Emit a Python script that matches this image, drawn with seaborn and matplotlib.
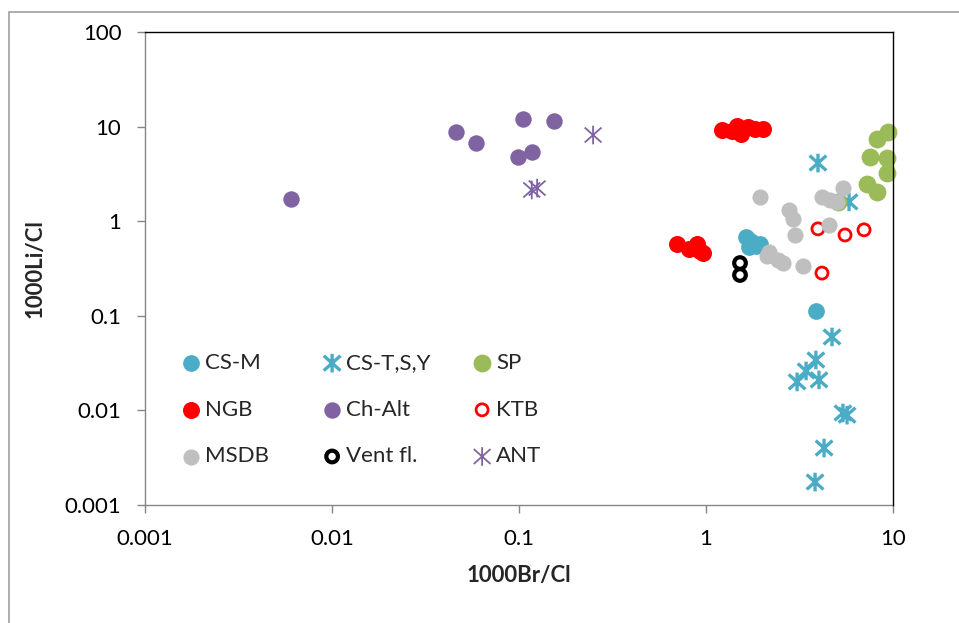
import numpy as np
import pandas as pd
import matplotlib
matplotlib.use("Agg")
import matplotlib.pyplot as plt
from matplotlib.path import Path
from matplotlib.patches import Rectangle
import seaborn as sns

# ---------------- data ----------------
cs_m_x = [1.64, 1.70, 1.76, 1.85, 1.70, 1.94, 1.78, 3.87]
cs_m_y = [0.68, 0.63, 0.60, 0.55, 0.53, 0.57, 0.56, 0.112]

cs_tsy_x = [3.97, 5.82, 4.72, 3.87, 3.43, 3.07, 4.02, 5.40, 5.68, 4.28, 3.83]
cs_tsy_y = [4.12, 1.60, 0.0597, 0.0341, 0.0261, 0.0200, 0.0210, 0.0094, 0.0089, 0.0040, 0.00175]

sp_x = [9.40, 8.21, 7.53, 9.29, 9.29, 7.26, 8.21, 5.08]
sp_y = [8.8, 7.4, 4.8, 4.7, 3.2, 2.5, 2.05, 1.6]

ngb_x = [1.22, 1.38, 1.46, 1.54, 1.68, 1.83, 2.02, 0.70, 0.81, 0.895, 0.96, 0.93]
ngb_y = [9.2, 9.0, 10.1, 8.35, 9.9, 9.5, 9.5, 0.57, 0.51, 0.57, 0.46, 0.49]

chalt_x = [0.006, 0.046, 0.059, 0.105, 0.154, 0.099, 0.117]
chalt_y = [1.72, 8.8, 6.7, 12.0, 11.5, 4.8, 5.4]

ktb_x = [3.97, 5.54, 7.0, 4.17]
ktb_y = [0.83, 0.715, 0.81, 0.283]

msdb_x = [1.94, 2.78, 2.92, 2.99, 2.17, 2.12, 2.43, 2.58, 3.30, 4.17, 4.60, 5.02, 5.40, 4.55]
msdb_y = [1.80, 1.31, 1.05, 0.71, 0.47, 0.43, 0.39, 0.36, 0.336, 1.80, 1.67, 1.60, 2.24, 0.91]

vent_x = [1.52, 1.52]
vent_y = [0.361, 0.27]

ant_x = [0.249, 0.117, 0.125]
ant_y = [8.15, 2.14, 2.24]

x_ticks = [0.001, 0.01, 0.1, 1, 10]
x_tick_labels = ["0.001", "0.01", "0.1", "1", "10"]
y_ticks = [0.001, 0.01, 0.1, 1, 10, 100]
y_tick_labels = ["0.001", "0.01", "0.1", "1", "10", "100"]

x_label = "1000Br/Cl"
y_label = "1000Li/Cl"

# ---------------- styling ----------------
sns.set_theme(style="white")
plt.rcParams['font.family'] = ['Lato', 'DejaVu Sans']

BLUE = "#4BACC6"
GREEN = "#9BBB59"
RED = "#FF0000"
PURPLE = "#8064A2"
GREY = "#BFBFBF"

star = Path([(0, -1), (0, 1), (-0.9, -0.8), (0.9, 0.8), (-0.9, 0.8), (0.9, -0.8)],
            [Path.MOVETO, Path.LINETO] * 3)

fig = plt.figure(figsize=(9.59, 6.23), dpi=100)
ax = fig.add_axes([145 / 959, 118 / 623, 748 / 959, 473 / 623])

def df(x, y):
    return pd.DataFrame({"x": x, "y": y})

handles = {}
specs = [
    ("CS-M", cs_m_x, cs_m_y, dict(marker="o", s=145, color=BLUE, linewidth=0)),
    ("CS-T,S,Y", cs_tsy_x, cs_tsy_y, dict(marker=star, s=180, facecolor="none", edgecolor=BLUE, linewidth=2.4)),
    ("SP", sp_x, sp_y, dict(marker="o", s=165, color=GREEN, linewidth=0)),
    ("NGB", ngb_x, ngb_y, dict(marker="o", s=150, color=RED, linewidth=0)),
    ("Ch-Alt", chalt_x, chalt_y, dict(marker="o", s=140, color=PURPLE, linewidth=0)),
    ("KTB", ktb_x, ktb_y, dict(marker="o", s=75, facecolor="none", edgecolor=RED, linewidth=2.0)),
    ("MSDB", msdb_x, msdb_y, dict(marker="o", s=135, color=GREY, linewidth=0)),
    ("Vent fl.", vent_x, vent_y, dict(marker="o", s=70, facecolor="none", edgecolor="black", linewidth=3.0)),
    ("ANT", ant_x, ant_y, dict(marker=star, s=180, facecolor="none", edgecolor=PURPLE, linewidth=1.3)),
]
for i, (name, xs, ys, kw) in enumerate(specs):
    sns.scatterplot(data=df(xs, ys), x="x", y="y", ax=ax, label=name, zorder=3 + i,
                    legend=False, clip_on=False, **kw)
    handles[name] = ax.collections[-1]

ax.set_xscale("log")
ax.set_yscale("log")
ax.set_xlim(0.001, 10)
ax.set_ylim(0.001, 100)
ax.set_xticks(x_ticks, x_tick_labels)
ax.set_yticks(y_ticks, y_tick_labels)
ax.minorticks_off()

ax.tick_params(axis="both", which="major", labelsize=16, colors="#868686", labelcolor="black",
               length=6, width=1, direction="out", pad=11)
ax.tick_params(axis="x", bottom=True)
ax.tick_params(axis="y", left=True)

for side in ["left", "bottom"]:
    ax.spines[side].set_color("#868686")
    ax.spines[side].set_linewidth(1.0)
for side in ["top", "right"]:
    ax.spines[side].set_color("black")
    ax.spines[side].set_linewidth(1.0)
    ax.spines[side].set_zorder(20)

ax.set_xlabel(x_label, fontsize=16, fontweight="bold", labelpad=12)
ax.set_ylabel(y_label, fontsize=16, fontweight="bold", labelpad=14)

# legend: three columns, drawn as three frameless legends
columns = [["CS-M", "NGB", "MSDB"], ["CS-T,S,Y", "Ch-Alt", "Vent fl."], ["SP", "KTB", "ANT"]]
col_left_px = [180, 321, 471]
for j, col in enumerate(columns):
    leg = ax.legend([handles[n] for n in col], col, loc="upper left",
                    bbox_to_anchor=(col_left_px[j] / 959, 1 - 353 / 623),
                    bbox_transform=fig.transFigure, frameon=False, fontsize=16,
                    handlelength=1.0, handletextpad=0.12, borderpad=0, borderaxespad=0,
                    labelspacing=1.2, scatterpoints=1)
    if j < 2:
        ax.add_artist(leg)

# outer chart-area frame (cut by the image edges)
fig.patches.append(Rectangle((9 / 959, -0.1), 1.2, 0.1 + 1 - 12 / 623, transform=fig.transFigure,
                             fill=False, edgecolor="#A0A0A0", linewidth=1.2))

fig.savefig("out.png", dpi=100)
